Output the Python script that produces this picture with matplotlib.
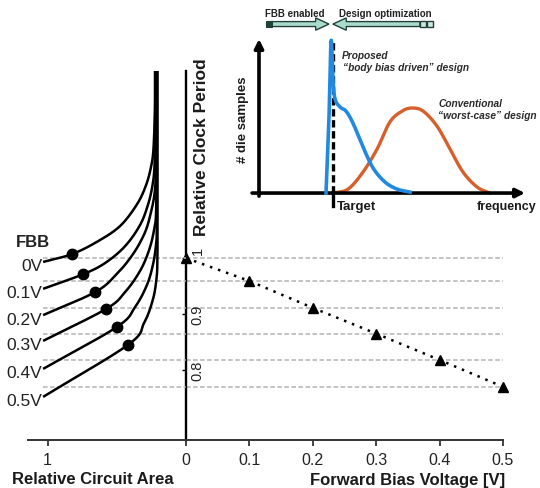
import numpy as np
import matplotlib
matplotlib.use("Agg")
import matplotlib.pyplot as plt
import matplotlib.transforms as mtransforms
from matplotlib.patches import FancyArrow, Rectangle

plt.rcParams["font.family"] = ["Liberation Sans", "DejaVu Sans"]

# ---------------- data ----------------
# forward body bias sweep (right panel)
fbb_voltage = [0.0, 0.1, 0.2, 0.3, 0.4, 0.5]
clock_period = [1.0, 0.959, 0.911, 0.865, 0.818, 0.770]
voltage_ticks = [0.0, 0.1, 0.2, 0.3, 0.4, 0.5]
voltage_tick_labels = ["0", "0.1", "0.2", "0.3", "0.4", "0.5"]
period_ticks = [0.8, 0.9, 1.0]
period_tick_labels = ["0.8", "0.9", "1"]

# area / clock-period trade-off curves, one per bias level (left panel)
fbb_labels = ["0V", "0.1V", "0.2V", "0.3V", "0.4V", "0.5V"]
fbb_label_period = [0.986, 0.939, 0.891, 0.846, 0.796, 0.745]
area_0v = [1.033, 0.824, 0.643, 0.477, 0.354, 0.289, 0.253, 0.235, 0.225, 0.224]
period_0v = [0.993, 1.007, 1.029, 1.057, 1.096, 1.130, 1.1625, 1.195, 1.266, 1.334]
area_01v = [1.033, 0.744, 0.585, 0.441, 0.332, 0.275, 0.242, 0.227, 0.221, 0.221]
period_01v = [0.945, 0.971, 0.991, 1.021, 1.059, 1.095, 1.130, 1.168, 1.248, 1.334]
area_02v = [1.033, 0.658, 0.506, 0.383, 0.296, 0.253, 0.228, 0.219, 0.217, 0.217]
period_02v = [0.898, 0.939, 0.970, 1.007, 1.046, 1.082, 1.114, 1.150, 1.248, 1.334]
area_03v = [1.033, 0.578, 0.441, 0.332, 0.267, 0.231, 0.216, 0.213, 0.213]
period_03v = [0.852, 0.909, 0.939, 0.977, 1.014, 1.050, 1.084, 1.195, 1.334]
area_04v = [1.033, 0.499, 0.368, 0.282, 0.238, 0.217, 0.211, 0.210, 0.210]
period_04v = [0.802, 0.877, 0.9125, 0.952, 0.989, 1.023, 1.055, 1.195, 1.334]
area_05v = [1.033, 0.419, 0.303, 0.238, 0.212, 0.207, 0.206, 0.206, 0.206]
period_05v = [0.752, 0.845, 0.884, 0.927, 0.966, 0.995, 1.025, 1.195, 1.334]
# chosen design point on each curve
point_area = [0.824, 0.744, 0.658, 0.578, 0.499, 0.419]
point_period = [1.007, 0.971, 0.939, 0.909, 0.877, 0.845]
area_ticks = [1.0]
area_tick_labels = ["1"]

# die frequency distributions (inset, arbitrary units)
proposed_freq = [0.252, 0.263, 0.271, 0.278, 0.286, 0.305, 0.327, 0.353, 0.391,
                 0.429, 0.474, 0.519, 0.568]
proposed_count = [0.0, 0.481, 0.987, 0.740, 0.610, 0.558, 0.532, 0.455, 0.299,
                  0.162, 0.071, 0.026, 0.006]
conventional_freq = [0.278, 0.335, 0.391, 0.444, 0.492, 0.538, 0.575, 0.617,
                     0.669, 0.718, 0.767, 0.820, 0.868]
conventional_count = [0.0, 0.026, 0.136, 0.286, 0.461, 0.532, 0.552, 0.532,
                      0.435, 0.286, 0.136, 0.039, 0.0]
target_freq = 0.280

# ---------------- helpers ----------------
W, H = 540, 489


def box(x0, y0, x1, y1):
    return [x0 / W, 1 - y1 / H, (x1 - x0) / W, (y1 - y0) / H]


def smooth(xs, ys, n=16):
    """Catmull-Rom path through the given points."""
    P = np.column_stack([xs, ys]).astype(float)
    P = np.vstack([2 * P[0] - P[1], P, 2 * P[-1] - P[-2]])
    out = []
    t = np.linspace(0, 1, n, endpoint=False)[:, None]
    for i in range(1, len(P) - 2):
        p0, p1, p2, p3 = P[i - 1], P[i], P[i + 1], P[i + 2]
        seg = 0.5 * (2 * p1 + (-p0 + p2) * t
                     + (2 * p0 - 5 * p1 + 4 * p2 - p3) * t ** 2
                     + (-p0 + 3 * p1 - 3 * p2 + p3) * t ** 3)
        out.append(seg)
    out.append(P[-2][None])
    pts = np.vstack(out)
    return pts[:, 0], pts[:, 1]


fig = plt.figure(figsize=(5.4, 4.89), dpi=100)
fig.patch.set_facecolor("white")

PLIM = (0.675, 1.334)
grid_kw = dict(color="#b3b3b3", lw=1.1, ls=(0, (3, 1.6)), zorder=1)

# ---------------- right panel: voltage ----------------
ax_v = fig.add_axes(box(186, 72, 503, 441))
ax_v.set_facecolor("none")
ax_v.set_xlim(0, 0.5)
ax_v.set_ylim(*PLIM)
for s in ("top", "right"):
    ax_v.spines[s].set_visible(False)
ax_v.spines["left"].set_linewidth(1.7)
ax_v.spines["left"].set_color("black")
ax_v.spines["bottom"].set_linewidth(1.4)
ax_v.spines["bottom"].set_color("#333333")
ax_v.set_xticks(voltage_ticks)
ax_v.set_xticklabels(voltage_tick_labels)
ax_v.tick_params(axis="x", direction="out", length=4, width=1.2, pad=5,
                 labelsize=11.5, colors="#222222")
ax_v.set_yticks(period_ticks)
ax_v.tick_params(axis="y", direction="out", length=3, width=1, labelleft=False)

for p in clock_period:
    ax_v.plot([0, 0.5], [p, p], **grid_kw)
ax_v.plot(fbb_voltage, clock_period, color="black", lw=1.8,
          ls=(0, (1, 2.4)), dash_capstyle="butt", zorder=3, clip_on=False)
ax_v.plot(fbb_voltage, clock_period, ls="none", marker="^", ms=7.5,
          color="black", zorder=4, clip_on=False)

nudge = {"1": 6}
for val, lab in zip(period_ticks, period_tick_labels):
    tr = mtransforms.offset_copy(ax_v.transData, fig=fig, x=0,
                                 y=nudge.get(lab, 0), units="points")
    ax_v.text(0.018, val, lab, transform=tr, rotation=90, ha="center",
              va="center", fontsize=10.5, color="#222222")

# ---------------- left panel: circuit area ----------------
ax_a = fig.add_axes(box(27.6, 72, 186, 441))
ax_a.set_facecolor("none")
ax_a.set_xlim(1.145, 0)
ax_a.set_ylim(*PLIM)
for s in ("top", "right", "left"):
    ax_a.spines[s].set_visible(False)
ax_a.spines["bottom"].set_linewidth(1.4)
ax_a.spines["bottom"].set_color("#333333")
ax_a.set_yticks([])
ax_a.set_xticks(area_ticks)
ax_a.set_xticklabels(area_tick_labels)
ax_a.tick_params(axis="x", direction="out", length=4, width=1.2, pad=5,
                 labelsize=11.5, colors="#222222")

for p in clock_period:
    ax_a.plot([1.033, 0], [p, p], **grid_kw)

curves = [(area_0v, period_0v), (area_01v, period_01v), (area_02v, period_02v),
          (area_03v, period_03v), (area_04v, period_04v), (area_05v, period_05v)]
for a, p in curves:
    xs, ys = smooth(a, p)
    ax_a.plot(xs, ys, color="black", lw=1.8, solid_capstyle="butt",
              zorder=3, clip_on=False)
ax_a.plot(point_area, point_period, ls="none", marker="o", ms=7.5,
          color="black", zorder=4)

ax_a.text(1.105, 1.029, "FBB", fontsize=12, fontweight="bold", ha="center",
          va="center", color="#222222")
for lab, p in zip(fbb_labels, fbb_label_period):
    ax_a.text(1.04, p, lab, fontsize=12.5, ha="right", va="center",
              color="#222222")

# axis titles
fig.text(12 / W, 1 - 480 / H, "Relative Circuit Area", fontsize=12,
         fontweight="bold", ha="left", va="center", color="#1a1a1a")
fig.text(505 / W, 1 - 481 / H, "Forward Bias Voltage [V]", fontsize=12,
         fontweight="bold", ha="right", va="center", color="#1a1a1a")
fig.text(201 / W, 1 - 147 / H, "Relative Clock Period", fontsize=12.5,
         fontweight="bold", rotation=90, ha="center", va="center",
         color="#1a1a1a")

# ---------------- inset: die frequency distribution ----------------
ax_i = fig.add_axes(box(240, 0, 540, 215))
ax_i.set_facecolor("none")
ax_i.set_xlim(-0.0714, 1.0564)
ax_i.set_ylim(-0.136, 1.2597)
ax_i.axis("off")

arrow_kw = dict(arrowstyle="-|>", lw=2.6, color="black", mutation_scale=13,
                shrinkA=0, shrinkB=0)
ax_i.annotate("", xy=(0, 1.0), xytext=(0, -0.02), arrowprops=arrow_kw)
ax_i.annotate("", xy=(1.0, 0), xytext=(-0.026, 0), arrowprops=arrow_kw)

ax_i.plot([target_freq, target_freq], [0, 1.0], color="black", lw=2.4,
          ls=(0, (2.2, 1.1)), zorder=3)
ax_i.plot([target_freq, target_freq], [0, -0.084], color="black", lw=2.4,
          zorder=3)

xs, ys = smooth(conventional_freq, conventional_count)
ax_i.plot(xs, ys, color="#d6602c", lw=2.4, zorder=2)
xs, ys = smooth(proposed_freq, proposed_count)
ax_i.plot(xs, ys, color="#2289e0", lw=2.6, zorder=4)

tkw = dict(fontsize=7.3, fontweight="bold", style="italic", color="#2a2a2a",
           ha="left", va="center")
ax_i.text(0.312, 0.896, "Proposed", **tkw)
ax_i.text(0.314, 0.818, "\u201cbody bias driven\u201d design", **tkw)
ax_i.text(0.673, 0.584, "Conventional", **tkw)
ax_i.text(0.673, 0.506, "\u201cworst-case\u201d design", **tkw)

ax_i.text(-0.060, 0.48, "# die samples", rotation=90, fontsize=9.5,
          fontweight="bold", ha="center", va="center", color="#1a1a1a")
ax_i.text(0.293, -0.082, "Target", fontsize=9.5, fontweight="bold",
          ha="left", va="center", color="#1a1a1a")
ax_i.text(0.818, -0.082, "frequency", fontsize=9, fontweight="bold",
          ha="left", va="center", color="#1a1a1a")

# design-direction arrows above the inset
teal, dark = "#a9dccb", "#22403a"
ay = 1.097
ax_i.add_patch(FancyArrow(0.046, ay, 0.217, 0, width=0.032, head_width=0.08,
                          head_length=0.05, length_includes_head=True,
                          fc=teal, ec=dark, lw=1.0, clip_on=False))
ax_i.add_patch(Rectangle((0.026, ay - 0.02), 0.022, 0.04, fc=dark, ec=dark,
                         lw=0.8, clip_on=False))
ax_i.add_patch(FancyArrow(0.605, ay, -0.327, 0, width=0.032, head_width=0.08,
                          head_length=0.05, length_includes_head=True,
                          fc=teal, ec=dark, lw=1.0, clip_on=False))
for x0 in (0.607, 0.632):
    ax_i.add_patch(Rectangle((x0, ay - 0.02), 0.021, 0.04, fc="#cfe8df",
                             ec=dark, lw=1.0, clip_on=False))
ax_i.text(0.133, 1.169, "FBB enabled", fontsize=7, fontweight="bold",
          ha="center", va="center", color="#222222")
ax_i.text(0.474, 1.169, "Design optimization", fontsize=7, fontweight="bold",
          ha="center", va="center", color="#222222")

fig.savefig("out.png", dpi=100)
